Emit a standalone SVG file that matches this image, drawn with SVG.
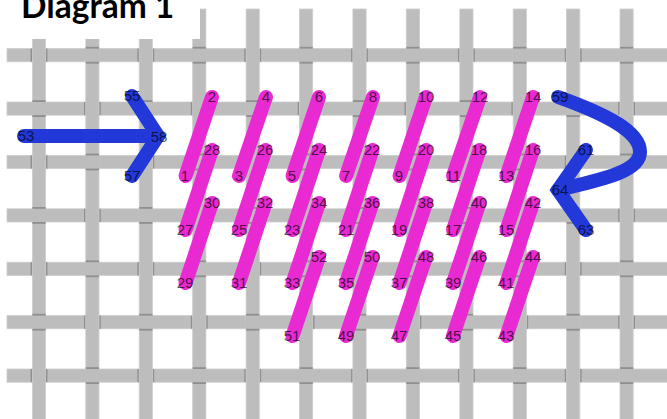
<svg xmlns="http://www.w3.org/2000/svg" xmlns:xlink="http://www.w3.org/1999/xlink" width="667" height="419" viewBox="0 0 667 419">
<style>
.h,.v{fill:#bdbdbd;stroke:#cdcdcd;stroke-width:.8}
.p{fill:#bdbdbd}
.s{fill:#8f8f8f}
.pk{fill:none;stroke:#e92bd3;stroke-width:14;stroke-linecap:round}
.bl{fill:none;stroke:#2138d8;stroke-width:14;stroke-linecap:round;stroke-linejoin:miter}
text{font-family:"Liberation Sans",Arial,sans-serif;font-size:15px;text-anchor:middle;fill:#000;fill-opacity:.68}
#title text{font-family:Lato,"Liberation Sans",sans-serif;font-weight:700;font-size:33.5px;text-anchor:start;fill:#000;fill-opacity:1}
</style>
<defs>
<filter id="soft" filterUnits="userSpaceOnUse" x="0" y="0" width="667" height="419"><feGaussianBlur stdDeviation="0.45"/></filter>
<rect id="a" class="s" x="-8.4" y="-6.6" width="16.8" height="13.2"/>
<g id="b"><rect class="s" x="-6.6" y="-8.4" width="13.2" height="16.8"/><rect class="p" x="-7.2" y="-6.6" width="14.4" height="13.2"/></g>
</defs>
<rect width="667" height="419" fill="#fff"/>
<g id="fabric" filter="url(#soft)">
<g id="horizontal-threads">
<rect class="h" x="7" y="48.6" width="665" height="13.2"/>
<rect class="h" x="7" y="102" width="665" height="13.2"/>
<rect class="h" x="7" y="155.4" width="665" height="13.2"/>
<rect class="h" x="7" y="208.8" width="665" height="13.2"/>
<rect class="h" x="7" y="262.2" width="665" height="13.2"/>
<rect class="h" x="7" y="315.6" width="665" height="13.2"/>
<rect class="h" x="7" y="369" width="665" height="13.2"/>
</g>
<g id="vertical-over-shade">
<use href="#a" x="39" y="55.2"/><use href="#a" x="145.8" y="55.2"/><use href="#a" x="252.7" y="55.2"/><use href="#a" x="359.5" y="55.2"/><use href="#a" x="466.4" y="55.2"/><use href="#a" x="573.2" y="55.2"/>
<use href="#a" x="92.4" y="108.6"/><use href="#a" x="199.3" y="108.6"/><use href="#a" x="306.1" y="108.6"/><use href="#a" x="412.9" y="108.6"/><use href="#a" x="519.8" y="108.6"/><use href="#a" x="626.6" y="108.6"/>
<use href="#a" x="39" y="162"/><use href="#a" x="145.8" y="162"/><use href="#a" x="252.7" y="162"/><use href="#a" x="359.5" y="162"/><use href="#a" x="466.4" y="162"/><use href="#a" x="573.2" y="162"/>
<use href="#a" x="92.4" y="215.4"/><use href="#a" x="199.3" y="215.4"/><use href="#a" x="306.1" y="215.4"/><use href="#a" x="412.9" y="215.4"/><use href="#a" x="519.8" y="215.4"/><use href="#a" x="626.6" y="215.4"/>
<use href="#a" x="39" y="268.8"/><use href="#a" x="145.8" y="268.8"/><use href="#a" x="252.7" y="268.8"/><use href="#a" x="359.5" y="268.8"/><use href="#a" x="466.4" y="268.8"/><use href="#a" x="573.2" y="268.8"/>
<use href="#a" x="92.4" y="322.2"/><use href="#a" x="199.3" y="322.2"/><use href="#a" x="306.1" y="322.2"/><use href="#a" x="412.9" y="322.2"/><use href="#a" x="519.8" y="322.2"/><use href="#a" x="626.6" y="322.2"/>
<use href="#a" x="39" y="375.6"/><use href="#a" x="145.8" y="375.6"/><use href="#a" x="252.7" y="375.6"/><use href="#a" x="359.5" y="375.6"/><use href="#a" x="466.4" y="375.6"/><use href="#a" x="573.2" y="375.6"/>
</g>
<g id="vertical-threads">
<rect class="v" x="32.4" y="9" width="13.2" height="415"/>
<rect class="v" x="85.8" y="9" width="13.2" height="415"/>
<rect class="v" x="139.2" y="9" width="13.2" height="415"/>
<rect class="v" x="192.7" y="9" width="13.2" height="415"/>
<rect class="v" x="246.1" y="9" width="13.2" height="415"/>
<rect class="v" x="299.5" y="9" width="13.2" height="415"/>
<rect class="v" x="352.9" y="9" width="13.2" height="415"/>
<rect class="v" x="406.3" y="9" width="13.2" height="415"/>
<rect class="v" x="459.8" y="9" width="13.2" height="415"/>
<rect class="v" x="513.2" y="9" width="13.2" height="415"/>
<rect class="v" x="566.6" y="9" width="13.2" height="415"/>
<rect class="v" x="620" y="9" width="13.2" height="415"/>
</g>
<g id="horizontal-over">
<use href="#b" x="92.4" y="55.2"/><use href="#b" x="199.3" y="55.2"/><use href="#b" x="306.1" y="55.2"/><use href="#b" x="412.9" y="55.2"/><use href="#b" x="519.8" y="55.2"/><use href="#b" x="626.6" y="55.2"/>
<use href="#b" x="39" y="108.6"/><use href="#b" x="145.8" y="108.6"/><use href="#b" x="252.7" y="108.6"/><use href="#b" x="359.5" y="108.6"/><use href="#b" x="466.4" y="108.6"/><use href="#b" x="573.2" y="108.6"/>
<use href="#b" x="92.4" y="162"/><use href="#b" x="199.3" y="162"/><use href="#b" x="306.1" y="162"/><use href="#b" x="412.9" y="162"/><use href="#b" x="519.8" y="162"/><use href="#b" x="626.6" y="162"/>
<use href="#b" x="39" y="215.4"/><use href="#b" x="145.8" y="215.4"/><use href="#b" x="252.7" y="215.4"/><use href="#b" x="359.5" y="215.4"/><use href="#b" x="466.4" y="215.4"/><use href="#b" x="573.2" y="215.4"/>
<use href="#b" x="92.4" y="268.8"/><use href="#b" x="199.3" y="268.8"/><use href="#b" x="306.1" y="268.8"/><use href="#b" x="412.9" y="268.8"/><use href="#b" x="519.8" y="268.8"/><use href="#b" x="626.6" y="268.8"/>
<use href="#b" x="39" y="322.2"/><use href="#b" x="145.8" y="322.2"/><use href="#b" x="252.7" y="322.2"/><use href="#b" x="359.5" y="322.2"/><use href="#b" x="466.4" y="322.2"/><use href="#b" x="573.2" y="322.2"/>
<use href="#b" x="92.4" y="375.6"/><use href="#b" x="199.3" y="375.6"/><use href="#b" x="306.1" y="375.6"/><use href="#b" x="412.9" y="375.6"/><use href="#b" x="519.8" y="375.6"/><use href="#b" x="626.6" y="375.6"/>
</g>
</g>
<g id="title">
<rect x="0" y="0" width="200" height="39" fill="#fff"/>
<text x="21" y="18">Diagram 1</text>
</g>
<g id="connectors" filter="url(#soft)">
<g id="stitches-row-1" class="pk">
<path d="M185.500 176L212 97"/><path d="M239 176L266 97"/><path d="M292.500 176L319 97"/><path d="M346 176L373 97"/><path d="M399.500 176L426 97"/><path d="M453 176L480 97"/><path d="M506.500 176L533 97"/>
</g>
<g id="stitches-row-2" class="pk">
<path d="M185.500 230L212 150"/><path d="M239 230L265.500 150"/><path d="M292.500 230L319 150"/><path d="M346 230L372.500 150"/><path d="M399.500 230L426 150"/><path d="M453 230L479.500 150"/><path d="M506.500 230L533 150"/>
</g>
<g id="stitches-row-3" class="pk">
<path d="M185.500 283L212 203"/><path d="M239 283L265.500 203"/><path d="M292.500 283L319 203"/><path d="M346 283L372.500 203"/><path d="M399.500 283L426 203"/><path d="M453 283L479.500 203"/><path d="M506.500 283L533 203"/>
</g>
<g id="stitches-row-4" class="pk">
<path d="M292.500 336L319 257"/><path d="M346 336L372.500 257"/><path d="M399.500 336L426 257"/><path d="M453 336L479.500 257"/><path d="M506.500 336L533 257"/>
</g>
<g id="arrow-left" class="bl">
<path d="M24 136H158"/><path d="M132 96L158 136L132 176"/>
</g>
<g id="arrow-right" class="bl">
<path d="M558 97C600 112 640 130 640 152C640 172 600 180 558 190"/><path d="M586 150L558 190L586 230"/>
</g>
</g>
<g id="labels">
<text x="212" y="102">2</text><text x="266" y="102">4</text><text x="319" y="102">6</text><text x="373" y="102">8</text><text x="426" y="102">10</text><text x="480" y="102">12</text><text x="533" y="102">14</text>
<text x="185" y="181">1</text><text x="239" y="181">3</text><text x="292" y="181">5</text><text x="346" y="181">7</text><text x="399" y="181">9</text><text x="453" y="181">11</text><text x="506" y="181">13</text>
<text x="212" y="155">28</text><text x="265" y="155">26</text><text x="319" y="155">24</text><text x="372" y="155">22</text><text x="426" y="155">20</text><text x="479" y="155">18</text><text x="533" y="155">16</text>
<text x="185" y="235">27</text><text x="239" y="235">25</text><text x="292" y="235">23</text><text x="346" y="235">21</text><text x="399" y="235">19</text><text x="453" y="235">17</text><text x="506" y="235">15</text>
<text x="212" y="208">30</text><text x="265" y="208">32</text><text x="319" y="208">34</text><text x="372" y="208">36</text><text x="426" y="208">38</text><text x="479" y="208">40</text><text x="533" y="208">42</text>
<text x="185" y="288">29</text><text x="239" y="288">31</text><text x="292" y="288">33</text><text x="346" y="288">35</text><text x="399" y="288">37</text><text x="453" y="288">39</text><text x="506" y="288">41</text>
<text x="319" y="262">52</text><text x="372" y="262">50</text><text x="426" y="262">48</text><text x="479" y="262">46</text><text x="533" y="262">44</text>
<text x="292" y="341">51</text><text x="346" y="341">49</text><text x="399" y="341">47</text><text x="453" y="341">45</text><text x="506" y="341">43</text>
<text x="26" y="141">53</text><text x="159" y="142">58</text><text x="132" y="101">55</text><text x="132" y="181">57</text>
<text x="560" y="102">59</text><text x="586" y="155">61</text><text x="560" y="195">64</text><text x="586" y="235">63</text>
</g>
</svg>
